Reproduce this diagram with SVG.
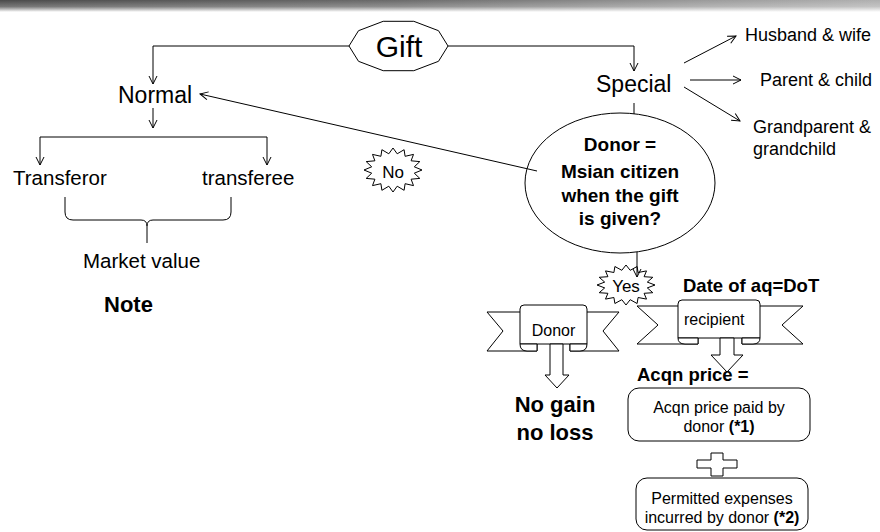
<svg xmlns="http://www.w3.org/2000/svg" width="880" height="532" viewBox="0 0 880 532">
  <defs>
    <linearGradient id="bandH" x1="0" y1="0" x2="1" y2="0">
      <stop offset="0" stop-color="#4a4a4a"/>
      <stop offset="0.45" stop-color="#6a6a6a"/>
      <stop offset="0.8" stop-color="#9a9a9a"/>
      <stop offset="1" stop-color="#b0b0b0"/>
    </linearGradient>
    <linearGradient id="bandV" x1="0" y1="0" x2="0" y2="1">
      <stop offset="0" stop-color="#fff" stop-opacity="0"/>
      <stop offset="0.55" stop-color="#fff" stop-opacity="0.25"/>
      <stop offset="1" stop-color="#fff" stop-opacity="1"/>
    </linearGradient>
    <marker id="open" viewBox="0 0 10 10" refX="9" refY="5" markerWidth="10" markerHeight="10" markerUnits="userSpaceOnUse" orient="auto">
      <path d="M1,1 L9,5 L1,9" fill="none" stroke="#000" stroke-width="1"/>
    </marker>
  </defs>
  <style>
    text { font-family: "Liberation Sans", Arial, sans-serif; fill: #000; }
    .ln { fill: none; stroke: #000; stroke-width: 1; }
    .arr { fill: none; stroke: #000; stroke-width: 1; marker-end: url(#open); }
    .shape { fill: #fff; stroke: #000; stroke-width: 1; }
    .b { font-weight: bold; }
    .mid { text-anchor: middle; }
  </style>

  <rect width="880" height="532" fill="#fff"/>
  <!-- header band -->
  <rect x="0" y="0" width="880" height="12" fill="url(#bandH)"/>
  <rect x="0" y="0" width="880" height="12" fill="url(#bandV)"/>

  <g id="gift">
    <polygon class="shape" points="448,46 438.5,61.3 413.8,70.7 383.2,70.7 358.5,61.3 349,46 358.5,30.7 383.2,21.3 413.8,21.3 438.5,30.7"/>
    <text class="mid" x="399" y="57" font-size="30">Gift</text>
  </g>

  <g id="normal"><text x="118" y="103" font-size="23">Normal</text></g>
  <g id="special"><text x="596" y="92" font-size="23">Special</text></g>
  <g id="husband"><text x="745" y="41" font-size="18">Husband &amp; wife</text></g>
  <g id="parent"><text x="760" y="86" font-size="18">Parent &amp; child</text></g>
  <g id="grand">
    <text x="753" y="133" font-size="18">Grandparent &amp;</text>
    <text x="753" y="155" font-size="18">grandchild</text>
  </g>

  <g id="transferor"><text x="13" y="185" font-size="20.5">Transferor</text></g>
  <g id="transferee"><text x="202" y="185" font-size="20.5">transferee</text></g>
  <g id="market"><text x="83" y="268" font-size="20.5">Market value</text></g>
  <g id="note"><text class="b" x="104" y="312" font-size="22">Note</text></g>

  <g id="no">
    <polygon class="shape" points="422,170 414.3,173.2 419.8,178.4 411.1,179.2 413.5,185.6 405.1,183.7 404.1,190.3 397.2,186.2 393,192 388.8,186.2 381.9,190.3 380.9,183.7 372.5,185.6 374.9,179.2 366.2,178.4 371.7,173.2 364,170 371.7,166.8 366.2,161.6 374.9,160.8 372.5,154.4 380.9,156.3 381.9,149.7 388.8,153.8 393,148 397.2,153.8 404.1,149.7 405.1,156.3 413.5,154.4 411.1,160.8 419.8,161.6 414.3,166.8"/>
    <text class="mid" x="393" y="178" font-size="17">No</text>
  </g>

  <g id="question">
    <ellipse class="shape" cx="620" cy="183" rx="95" ry="70"/>
    <text class="mid b" x="620" y="151" font-size="19">Donor =</text>
    <text class="mid b" x="620" y="178" font-size="19">Msian citizen</text>
    <text class="mid b" x="620" y="202" font-size="19">when the gift</text>
    <text class="mid b" x="620" y="225" font-size="19">is given?</text>
  </g>

  <g id="donor">
    <polygon class="shape" points="487,312 537,312 537,351 487,351 503,331"/>
    <polygon class="shape" points="619,312 570,312 570,351 619,351 603,331"/>
    <path class="shape" d="M520,344 V309 Q520,305 524,305 H583 Q587,305 587,309 V344 Z"/>
    <path class="shape" d="M520,344 Q520,351 527,351 H537 V344 Z"/>
    <path class="shape" d="M587,344 Q587,351 580,351 H570 V344 Z"/>
    <text class="mid" x="553.5" y="336" font-size="16">Donor</text>
    <path class="shape" d="M550,344 H563 V375 H569 L557,388 L545,375 H550 Z"/>
  </g>
  <g id="nogain">
    <text class="mid b" x="555" y="412" font-size="22">No gain</text>
    <text class="mid b" x="555" y="440" font-size="22">no loss</text>
  </g>

  <g id="recipient">
    <polygon class="shape" points="637,306 698,306 698,344 637,344 658,325"/>
    <polygon class="shape" points="803,306 742,306 742,344 803,344 782,325"/>
    <path class="shape" d="M678,338 V304 Q678,300 682,300 H756 Q760,300 760,304 V338 Z"/>
    <path class="shape" d="M678,338 Q678,344 685,344 H698 V338 Z"/>
    <path class="shape" d="M760,338 Q760,344 753,344 H742 V338 Z"/>
    <text x="684" y="325" font-size="16">recipient</text>
    <path class="shape" d="M720,338 H734 V355 H743 L727,372 L711,355 H720 Z"/>
  </g>

  <g id="yes">
    <polygon class="shape" points="655,285 647.3,287.9 652.8,292.7 644.1,293.3 646.5,299.1 638.1,297.5 637.1,303.5 630.2,299.7 626,305 621.8,299.7 614.9,303.5 613.9,297.5 605.5,299.1 607.9,293.3 599.2,292.7 604.7,287.9 597,285 604.7,282.1 599.2,277.3 607.9,276.7 605.5,270.9 613.9,272.5 614.9,266.5 621.8,270.3 626,265 630.2,270.3 637.1,266.5 638.1,272.5 646.5,270.9 644.1,276.7 652.8,277.3 647.3,282.1"/>
    <text class="mid" x="626" y="292" font-size="17">Yes</text>
  </g>

  <g id="date"><text class="b" x="683" y="292" font-size="18.5">Date of aq=DoT</text></g>
  <g id="acqn"><text class="b" x="637" y="381" font-size="18.5">Acqn price =</text></g>

  <g id="paid">
    <rect class="shape" x="628" y="388" width="182" height="53" rx="11"/>
    <text class="mid" x="719" y="413" font-size="16">Acqn price paid by</text>
    <text class="mid" x="719" y="432" font-size="16">donor <tspan class="b">(*1)</tspan></text>
  </g>
  <g id="plus">
    <path class="shape" d="M711,453 H723 V460 H737 V468 H723 V476 H711 V468 H697 V460 H711 Z"/>
  </g>
  <g id="expenses">
    <rect class="shape" x="636" y="478" width="172" height="52" rx="11"/>
    <text class="mid" x="722" y="504" font-size="16">Permitted expenses</text>
    <text class="mid" x="722" y="523" font-size="16">incurred by donor <tspan class="b">(*2)</tspan></text>
  </g>

  <!-- connectors drawn last so they sit over the shapes they touch -->
  <g id="connectors">
    <path class="arr" d="M349,46 H153 V84"/>
    <path class="arr" d="M448,46 H634 V71"/>
    <path class="arr" d="M153,108 V128"/>
    <path class="ln" d="M40,137 H267"/>
    <path class="arr" d="M40,137 V165"/>
    <path class="arr" d="M267,137 V165"/>
    <path class="arr" d="M684,63 L736,36"/>
    <path class="arr" d="M690,80 L741,80"/>
    <path class="arr" d="M684,87 L740,121"/>
    <path class="ln" d="M634,103 V114"/>
    <path class="arr" d="M537,171 L200,94"/>
    <path class="arr" d="M637,252 V277"/>
    <!-- brace under transferor / transferee -->
    <path class="ln" d="M65,197 V212 Q65,220 73,220 H141 Q147,220 147,226 V243 M147,226 Q147,220 153,220 H223 Q231,220 231,212 V197"/>
  </g>
</svg>
